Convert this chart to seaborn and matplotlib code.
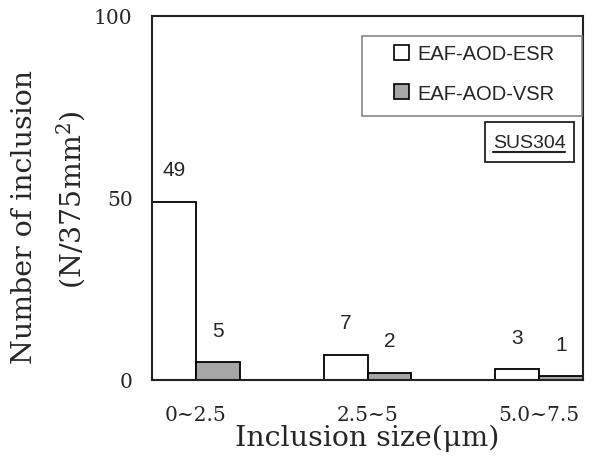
import pandas as pd
import matplotlib
matplotlib.use("Agg")
import matplotlib.pyplot as plt
from matplotlib.patches import Patch, Rectangle
import seaborn as sns

# Data
categories = ["0~2.5", "2.5~5", "5.0~7.5"]
series = ["EAF-AOD-ESR", "EAF-AOD-VSR"]
esr_counts = [49, 7, 3]
vsr_counts = [5, 2, 1]

df = pd.DataFrame({
    "size": categories * 2,
    "process": [series[0]] * 3 + [series[1]] * 3,
    "count": esr_counts + vsr_counts,
})

sns.set_style("white")
plt.rcParams["font.family"] = ["DejaVu Serif"]
plt.rcParams["mathtext.fontset"] = "dejavuserif"

colors = {series[0]: "white", series[1]: "#a6a6a6"}

fig = plt.figure(figsize=(5.94, 4.64), dpi=100)
ax = fig.add_axes([0.2559, 0.1789, 0.7256, 0.7845])

sns.barplot(data=df, x="size", y="count", hue="process", hue_order=series,
            palette=colors, width=0.51, edgecolor="black", linewidth=1.3,
            legend=False, ax=ax)

for cont in ax.containers:
    ax.bar_label(cont, padding=16, fontsize=15, family="Liberation Sans")

ax.set_xlim(-0.255, 2.255)
ax.set_ylim(0, 100)
ax.set_yticks([0, 50, 100])
ax.tick_params(axis="y", direction="in", length=5, width=1, pad=14, labelsize=14.5)
ax.tick_params(axis="x", length=0, pad=18, labelsize=14.5)

for sp in ax.spines.values():
    sp.set_visible(True)
    sp.set_linewidth(1.5)
    sp.set_color("#222222")

ax.set_xlabel("Inclusion size(μm)", fontsize=20.5, labelpad=0)
ax.set_ylabel("")
fig.text(0.042, 0.532, "Number of inclusion", rotation=90, fontsize=20.5,
         ha="center", va="center")
fig.text(0.12, 0.569, "(N/375mm$^2$)", rotation=90, fontsize=20.5,
         ha="center", va="center")

# legend frame and legend
ax.add_patch(Rectangle((0.487, 0.725), 0.511, 0.22, transform=ax.transAxes,
                       fill=False, edgecolor="#888888", linewidth=1.2, zorder=5))
handles = [Patch(facecolor=colors[s], edgecolor="black", linewidth=1.2) for s in series]
ax.legend(handles, series, loc="center", bbox_to_anchor=(0.747, 0.842),
          frameon=False, handlelength=0.75, handleheight=0.75, handletextpad=0.4,
          labelspacing=1.0, borderaxespad=0, borderpad=0,
          prop={"family": "Liberation Sans", "size": 14.5})

# SUS304 tag
ax.add_patch(Rectangle((0.7726, 0.599), 0.2064, 0.1098, transform=ax.transAxes,
                       fill=False, edgecolor="#222222", linewidth=1.3, zorder=5))
ax.text(0.875, 0.640, "SUS304", transform=ax.transAxes, ha="center", va="baseline",
        fontsize=14, family="Liberation Sans")
ax.plot([0.791, 0.958], [0.626, 0.626], transform=ax.transAxes, color="#222222",
        linewidth=1.5, clip_on=False)

fig.savefig("out.png", dpi=100)
